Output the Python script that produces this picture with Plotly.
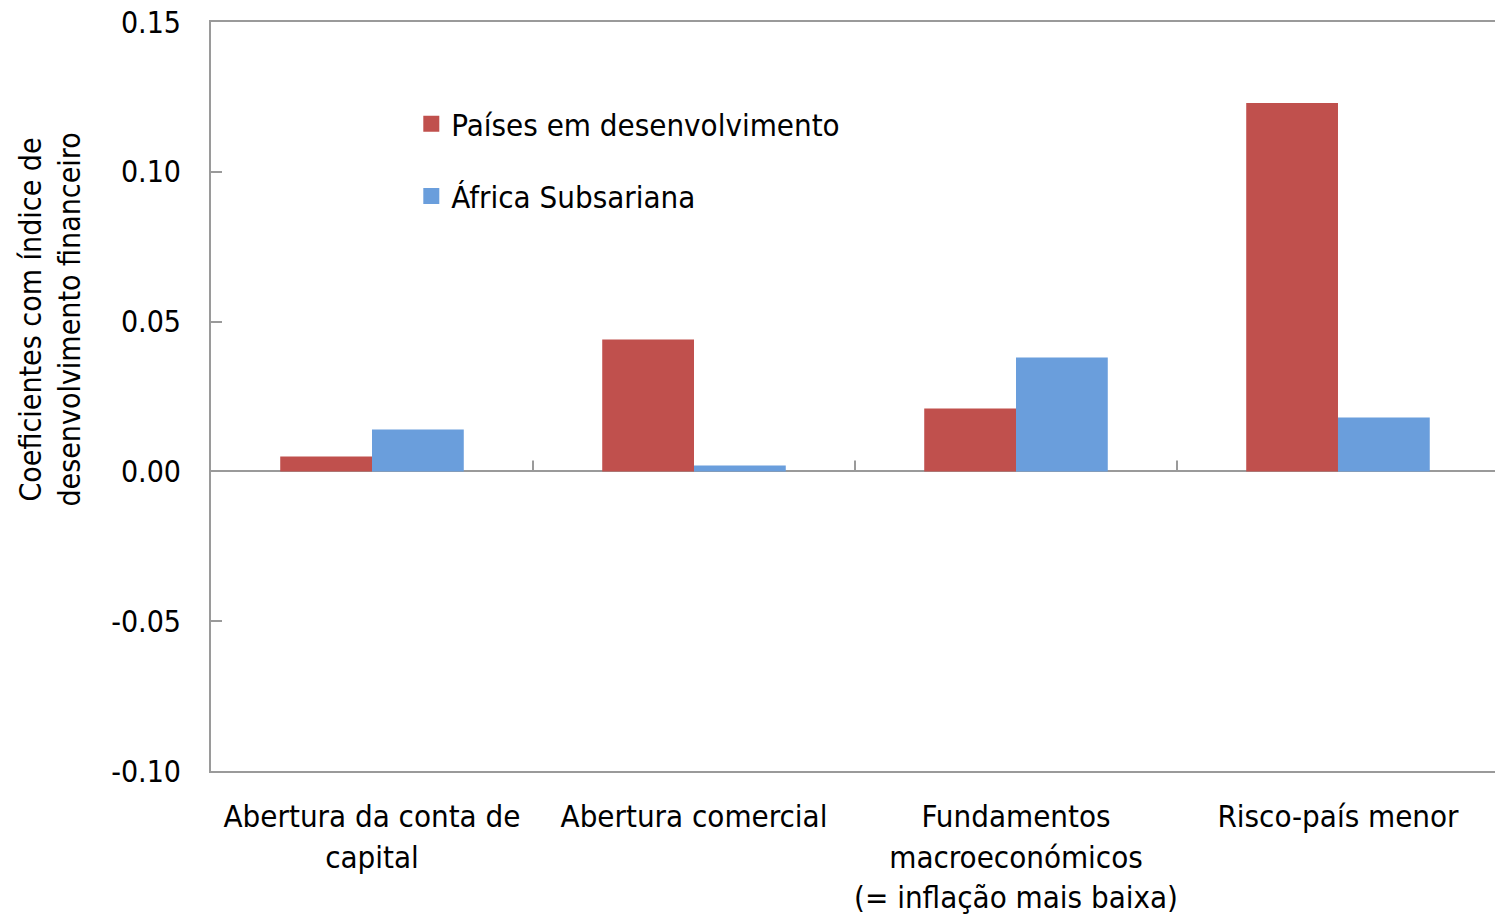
import plotly.graph_objects as go

categories = ["Abertura da conta de<br>capital", "Abertura comercial",
              "Fundamentos<br>macroeconómicos<br>(= inflação mais baixa)", "Risco-país menor"]
series_names = ["Países em desenvolvimento", "África Subsariana"]
paises_dev = [0.005, 0.044, 0.021, 0.123]
africa_ss = [0.014, 0.002, 0.038, 0.018]
y_ticks = [-0.10, -0.05, 0.00, 0.05, 0.10, 0.15]
y_ticklabels = ["-0.10", "-0.05", "0.00", "0.05", "0.10", "0.15"]

colors = ["#C0504D", "#6A9EDC"]
FONT = "DejaVu Sans Condensed, Liberation Sans Narrow, Arial Narrow, sans-serif"
GREY = "#9a9a9a"

fig = go.Figure()
for name, vals, col in zip(series_names, [paises_dev, africa_ss], colors):
    fig.add_trace(go.Bar(x=list(range(len(categories))), y=vals, name=name,
                         marker=dict(color=col, line=dict(width=0)),
                         showlegend=False))
    # legend proxies with larger square markers
    fig.add_trace(go.Scatter(x=[None], y=[None], mode="markers", name=name,
                             marker=dict(symbol="square", size=19, color=col),
                             legendgroup=name, showlegend=True))

# category boundary ticks on zero line
for b in [0.5, 1.5, 2.5]:
    fig.add_shape(type="line", xref="x", yref="y", x0=b, x1=b,
                  ysizemode="pixel", yanchor=0, y0=0, y1=11,
                  line=dict(color=GREY, width=2))

fig.update_layout(
    width=1495, height=920,
    margin=dict(l=211, r=0, t=22, b=149, autoexpand=False),
    paper_bgcolor="white", plot_bgcolor="white",
    barmode="group", bargap=0.43, bargroupgap=0,
    font=dict(family=FONT, color="black", size=30),
    showlegend=True,
    legend=dict(x=0.156, y=0.8997, xanchor="left", yanchor="top",
                font=dict(size=31, family=FONT), tracegroupgap=29,
                traceorder="grouped", bgcolor="rgba(0,0,0,0)",
                itemsizing="trace"),
    xaxis=dict(tickmode="array", tickvals=list(range(len(categories))),
               ticktext=categories, range=[-0.5, 3.5 - 4 / 322.5],
               showline=True, linecolor=GREY, linewidth=2, mirror=True,
               ticks="", showgrid=False, zeroline=False, automargin=False,
               tickfont=dict(size=31, family=FONT), ticklabelstandoff=17),
    yaxis=dict(range=[-0.10, 0.15], tickvals=y_ticks, ticktext=y_ticklabels,
               showline=True, linecolor=GREY, linewidth=2, mirror=False,
               ticks="inside", ticklen=11, tickwidth=2, tickcolor=GREY,
               showgrid=False, zeroline=True, zerolinecolor=GREY, zerolinewidth=2,
               automargin=False,
               tickfont=dict(size=30, family=FONT), ticklabelstandoff=22),
)

fig.add_annotation(text="Coeficientes com índice de<br>desenvolvimento financeiro",
                   xref="paper", yref="paper", x=-0.125, y=0.602,
                   xanchor="center", yanchor="middle", textangle=-90,
                   showarrow=False, font=dict(size=30, family=FONT))

fig.write_html("out.html", config={"displayModeBar": False},
               post_script="document.body.style.margin='0';document.body.style.overflow='hidden';")
